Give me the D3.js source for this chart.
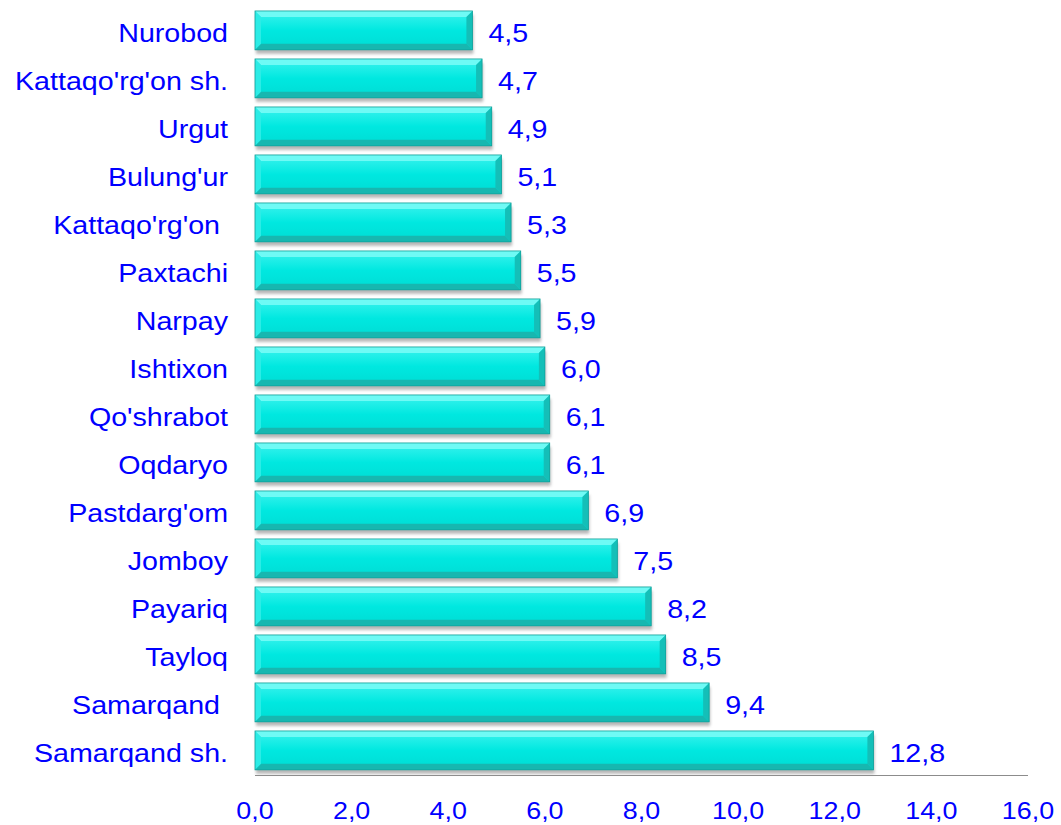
<!DOCTYPE html>
<html>
<head>
<meta charset="utf-8">
<script src="https://cdn.jsdelivr.net/npm/d3@7"></script>
<style>
  body { margin: 0; background: #fff; }
  text { font-family: "Liberation Sans", Arial, sans-serif; fill: #0000ff; white-space: pre; }
</style>
</head>
<body>
<div id="chart"></div>
<script>
// Data (top to bottom)
const categories = ["Nurobod", "Kattaqo'rg'on sh.", "Urgut", "Bulung'ur", "Kattaqo'rg'on ", "Paxtachi", "Narpay", "Ishtixon", "Qo'shrabot", "Oqdaryo", "Pastdarg'om", "Jomboy", "Payariq", "Tayloq", "Samarqand ", "Samarqand sh."];
const values = [4.5, 4.7, 4.9, 5.1, 5.3, 5.5, 5.9, 6.0, 6.1, 6.1, 6.9, 7.5, 8.2, 8.5, 9.4, 12.8];
const ticks = [0, 2, 4, 6, 8, 10, 12, 14, 16];

const W = 1061, H = 825;
const fmt = v => v.toFixed(1).replace(".", ",");

const svg = d3.select("#chart").append("svg").attr("width", W).attr("height", H);
const defs = svg.append("defs");

// Bar gradient
const grad = defs.append("linearGradient").attr("id", "barGrad")
  .attr("x1", 0).attr("y1", 0).attr("x2", 0).attr("y2", 1);
grad.append("stop").attr("offset", "0%").attr("stop-color", "#3cf3ee");
grad.append("stop").attr("offset", "50%").attr("stop-color", "#00e8e0");
grad.append("stop").attr("offset", "100%").attr("stop-color", "#00dcd4");

const blur = defs.append("filter").attr("id", "shadow").attr("x", "-5%").attr("y", "-20%").attr("width", "110%").attr("height", "150%");
blur.append("feGaussianBlur").attr("stdDeviation", 1.5);

// Scales
const x = d3.scaleLinear().domain([0, 16]).range([255, 1028]);
const y = d3.scaleBand().domain(categories).range([6.4, 774.4]).paddingInner(0.19).paddingOuter(0.095);

// Axis line
svg.append("line")
  .attr("x1", x(0)).attr("x2", x(16))
  .attr("y1", 775.5).attr("y2", 775.5)
  .style("stroke", "#8c8c8c").style("stroke-width", 1);

const bars = svg.append("g").selectAll("g")
  .data(categories.map((c, i) => ({ c, v: values[i] })))
  .enter().append("g");

// Shadow
bars.append("rect")
  .attr("x", x(0) + 1)
  .attr("y", d => y(d.c) + 4)
  .attr("width", d => x(d.v) - x(0))
  .attr("height", y.bandwidth())
  .attr("filter", "url(#shadow)")
  .style("fill", "#9a9a9a").style("opacity", 0.7);

// Body
bars.append("rect")
  .attr("x", x(0))
  .attr("y", d => y(d.c))
  .attr("width", d => x(d.v) - x(0))
  .attr("height", y.bandwidth())
  .style("fill", "url(#barGrad)");

// Bevel edges
const b = 6;
const bevel = (d, side) => {
  const x0 = x(0), x1 = x(d.v), y0 = y(d.c), y1 = y0 + y.bandwidth();
  if (side === "top") return [[x0, y0], [x1, y0], [x1 - b, y0 + b], [x0 + b, y0 + b]];
  if (side === "bottom") return [[x0, y1], [x1, y1], [x1 - b, y1 - b], [x0 + b, y1 - b]];
  if (side === "left") return [[x0, y0], [x0 + b, y0 + b], [x0 + b, y1 - b], [x0, y1]];
  return [[x1, y0], [x1 - b, y0 + b], [x1 - b, y1 - b], [x1, y1]];
};
const bevelFill = { top: "#6ffaf5", bottom: "#17b7b0", left: "#2cece6", right: "#14bfb8" };
["top", "bottom", "left", "right"].forEach(side => {
  bars.append("polygon")
    .attr("points", d => bevel(d, side).join(" "))
    .style("fill", bevelFill[side]);
});
bars.append("rect")
  .attr("x", x(0))
  .attr("y", d => y(d.c))
  .attr("width", d => x(d.v) - x(0))
  .attr("height", y.bandwidth())
  .style("fill", "none").style("stroke", "#109e98").style("stroke-width", 0.8);

// Value labels (font is slightly stretched horizontally in the original)
bars.append("text")
  .attr("transform", d => `translate(${x(d.v) + 16},${y(d.c) + y.bandwidth() / 2 + 12}) scale(1.08,1)`)
  .style("font-size", "26.5px")
  .text(d => fmt(d.v));

// Category labels
svg.append("g").selectAll("text")
  .data(categories).enter().append("text")
  .attr("transform", d => `translate(228,${y(d) + y.bandwidth() / 2 + 12}) scale(1.08,1)`)
  .attr("text-anchor", "end")
  .style("font-size", "26.5px")
  .text(d => d);

// Tick labels
svg.append("g").selectAll("text")
  .data(ticks).enter().append("text")
  .attr("transform", d => `translate(${x(d)},818.5) scale(1.12,1)`)
  .attr("text-anchor", "middle")
  .style("font-size", "24px")
  .text(d => fmt(d));
</script>
</body>
</html>
